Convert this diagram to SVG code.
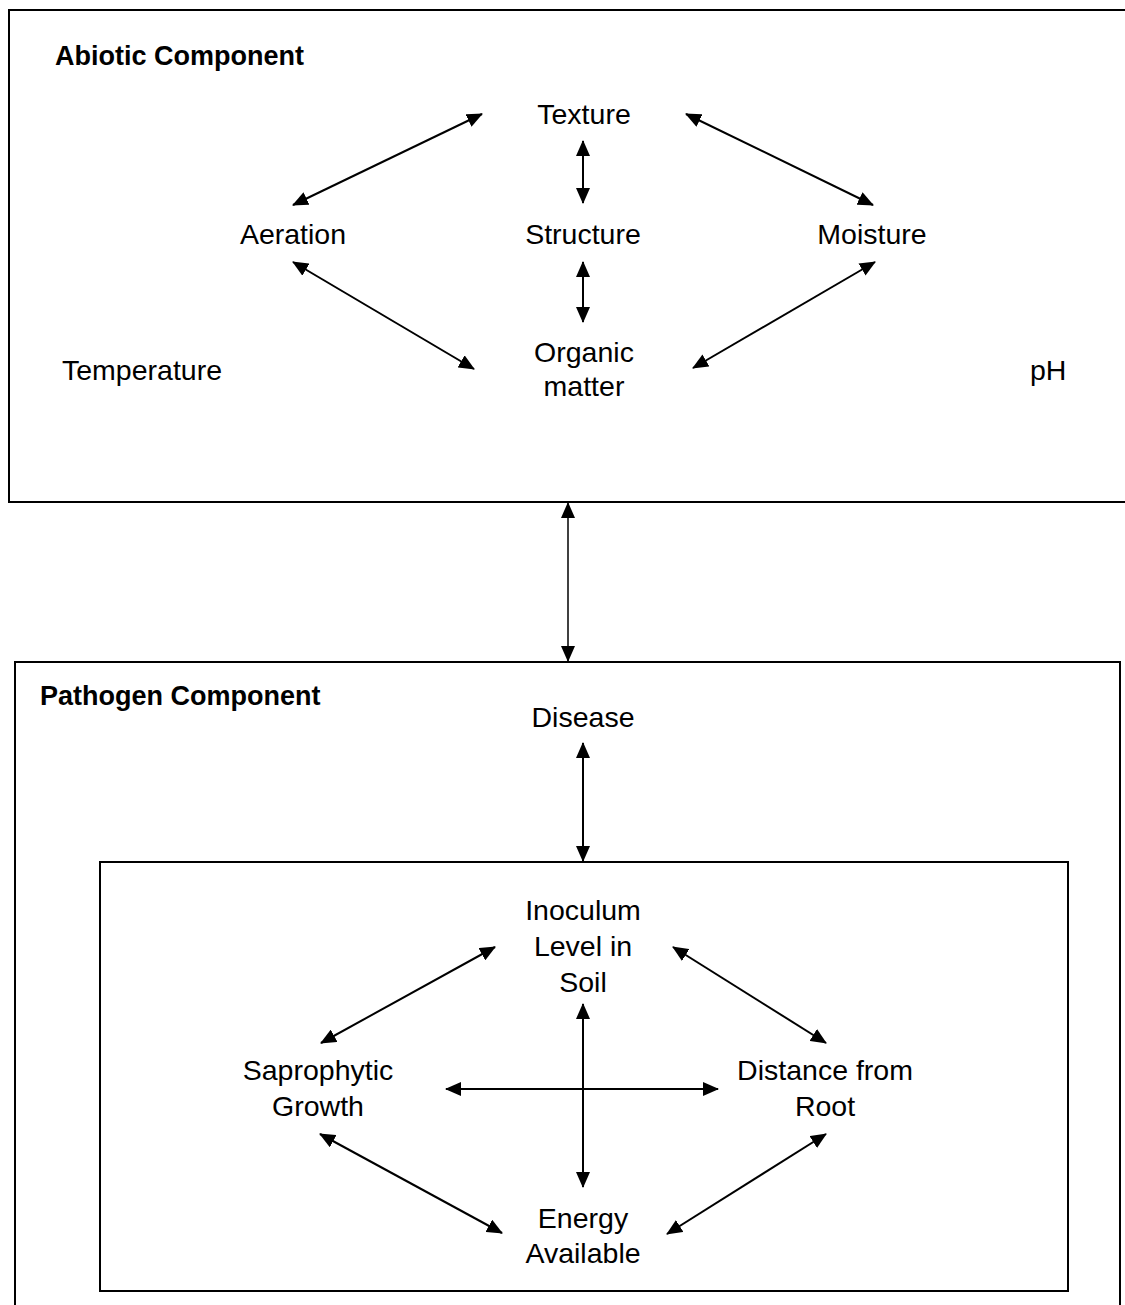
<svg xmlns="http://www.w3.org/2000/svg" width="1125" height="1305" viewBox="0 0 1125 1305">
<style>
  .t { font-family: "Liberation Sans", Arial, sans-serif; font-size: 28.5px; fill: #000; text-anchor: middle; }
  .ts { font-family: "Liberation Sans", Arial, sans-serif; font-size: 28.5px; fill: #000; }
  .h { font-family: "Liberation Sans", Arial, sans-serif; font-size: 27px; font-weight: bold; fill: #000; }
  .box { fill: none; stroke: #000; stroke-width: 2; }
  .c { stroke: #000; stroke-width: 2; fill: none; marker-start: url(#ah); marker-end: url(#ah); }
  .thin { stroke-width: 1.5; }
</style>
<defs>
  <marker id="ah" viewBox="0 0 16 14" refX="15" refY="7" markerWidth="16" markerHeight="14" markerUnits="userSpaceOnUse" orient="auto-start-reverse">
    <path d="M0,0 L16,7 L0,14 Z" fill="#000"/>
  </marker>
</defs>
<rect width="1125" height="1305" fill="#fff"/>

<g id="abiotic-box">
  <rect class="box" x="9" y="10" width="1130" height="492"/>
  <text class="h" x="55" y="65">Abiotic Component</text>
</g>
<g id="texture"><text class="t" x="584" y="124">Texture</text></g>
<g id="aeration"><text class="t" x="293" y="244">Aeration</text></g>
<g id="structure"><text class="t" x="583" y="244">Structure</text></g>
<g id="moisture"><text class="t" x="872" y="244">Moisture</text></g>
<g id="organic-matter"><text class="t" x="584" y="362">Organic</text><text class="t" x="584" y="396">matter</text></g>
<g id="temperature"><text class="ts" x="62" y="380">Temperature</text></g>
<g id="ph"><text class="ts" x="1030" y="380">pH</text></g>

<g id="pathogen-box">
  <rect class="box" x="15" y="662" width="1105" height="660"/>
  <text class="h" x="40" y="705">Pathogen Component</text>
</g>
<g id="disease"><text class="t" x="583" y="727">Disease</text></g>
<g id="inner-box"><rect class="box" x="100" y="862" width="968" height="429"/></g>
<g id="inoculum"><text class="t" x="583" y="920">Inoculum</text><text class="t" x="583" y="956">Level in</text><text class="t" x="583" y="992">Soil</text></g>
<g id="saprophytic"><text class="t" x="318" y="1080">Saprophytic</text><text class="t" x="318" y="1116">Growth</text></g>
<g id="distance"><text class="t" x="825" y="1080">Distance from</text><text class="t" x="825" y="1116">Root</text></g>
<g id="energy"><text class="t" x="583" y="1228">Energy</text><text class="t" x="583" y="1263">Available</text></g>

<g id="connectors">
  <line class="c" x1="482" y1="114" x2="293" y2="205"/>
  <line class="c" x1="686" y1="114" x2="873" y2="205"/>
  <line class="c" x1="583" y1="141" x2="583" y2="203"/>
  <line class="c" x1="583" y1="262" x2="583" y2="322"/>
  <line class="c" x1="293" y1="262" x2="474" y2="369"/>
  <line class="c" x1="875" y1="262" x2="693" y2="368"/>
  <line class="c thin" x1="568" y1="503" x2="568" y2="661"/>
  <line class="c" x1="583" y1="743" x2="583" y2="861"/>
  <line class="c" x1="495" y1="947" x2="321" y2="1043"/>
  <line class="c" x1="673" y1="947" x2="826" y2="1043"/>
  <line class="c" x1="583" y1="1004" x2="583" y2="1187"/>
  <line class="c" x1="446" y1="1089" x2="718" y2="1089"/>
  <line class="c" x1="320" y1="1134" x2="502" y2="1233"/>
  <line class="c" x1="826" y1="1134" x2="667" y2="1234"/>
</g>
</svg>
